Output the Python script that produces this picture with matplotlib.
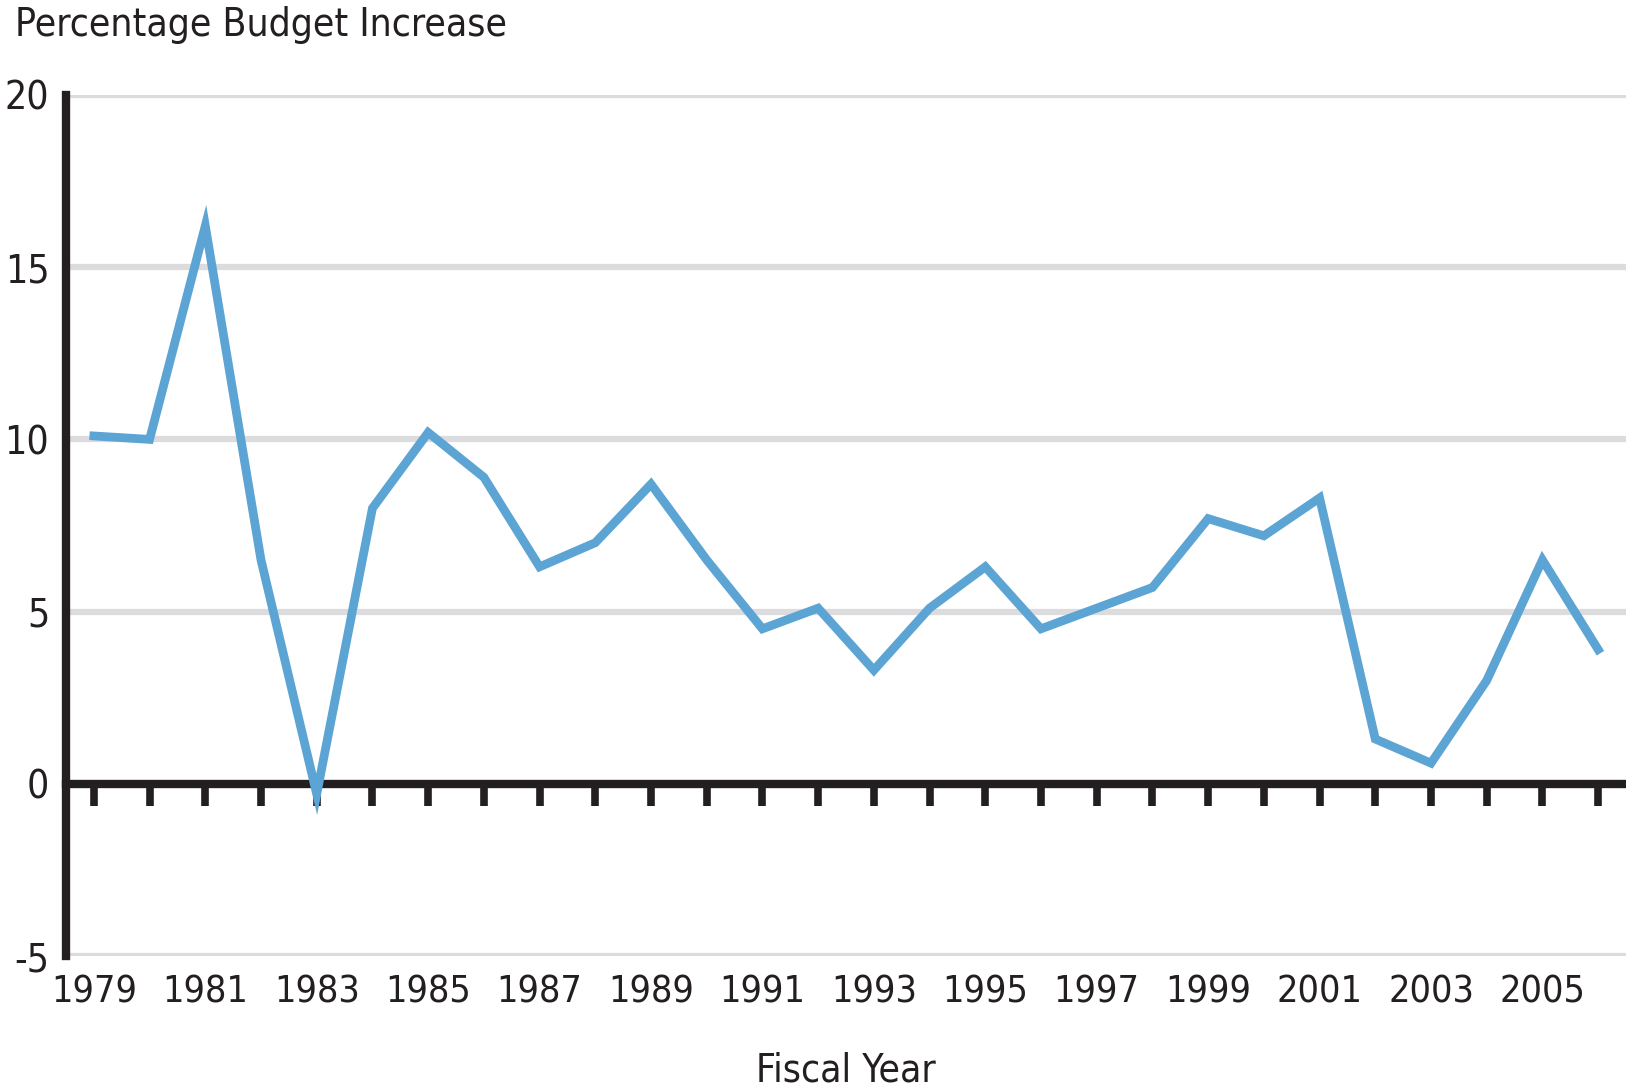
import matplotlib
matplotlib.use("Agg")
import matplotlib.pyplot as plt

plt.rcParams['font.family'] = ['DejaVu Sans']
plt.rcParams['font.stretch'] = 'condensed'
plt.rcParams['axes.unicode_minus'] = False

years = list(range(1979, 2007))
pct_increase = [10.1, 10.0, 16.2, 6.5, -0.3, 8.0, 10.2, 8.9, 6.3, 7.0,
                8.7, 6.5, 4.5, 5.1, 3.3, 5.1, 6.3, 4.5, 5.1, 5.7,
                7.7, 7.2, 8.3, 1.3, 0.6, 3.0, 6.5, 3.9]
y_ticks = [-5, 0, 5, 10, 15, 20]
x_label_years = list(range(1979, 2006, 2))

title = "Percentage Budget Increase"
x_title = "Fiscal Year"

line_color = "#5BA4D4"
grid_color = "#DCDCDE"
ink = "#231F20"

fig = plt.figure(figsize=(16.26, 10.89), dpi=100)
ax = fig.add_axes([66 / 1626, 1 - 956 / 1089, 1 - 66 / 1626, (956 - 95) / 1089])

ax.plot(years, pct_increase, color=line_color, lw=6.3, zorder=3,
        solid_joinstyle='miter')

ax.set_xlim(1978.5, 2006.5)
ax.set_ylim(-5, 20)

# grid
ax.set_yticks(y_ticks)
ax.yaxis.grid(True, color=grid_color, lw=4.5)
ax.set_axisbelow(True)
ax.tick_params(axis='y', length=0, pad=12, labelsize=28, colors=ink)

# spines
for s in ['top', 'right']:
    ax.spines[s].set_visible(False)
ax.spines['left'].set_color(ink)
ax.spines['left'].set_linewidth(6)
ax.spines['bottom'].set_position(('data', 0))
ax.spines['bottom'].set_color(ink)
ax.spines['bottom'].set_linewidth(6)
ax.spines['bottom'].set_zorder(2.5)

ax.set_xticks(years)
ax.tick_params(axis='x', direction='out', length=16, width=5.5, color=ink,
               labelbottom=False)

sec = ax.secondary_xaxis('bottom')
sec.set_xticks(x_label_years)
sec.set_xticklabels([str(y) for y in x_label_years])
sec.tick_params(length=0, pad=13, labelsize=27, colors=ink)
sec.spines['bottom'].set_visible(False)
sec.set_xlabel(x_title, fontsize=28, color=ink, labelpad=30)

fig.text(15 / 1626, 1 - 25 / 1089, title, ha='left', va='center',
         fontsize=28, color=ink)

fig.savefig("out.png", dpi=100, facecolor='white')
